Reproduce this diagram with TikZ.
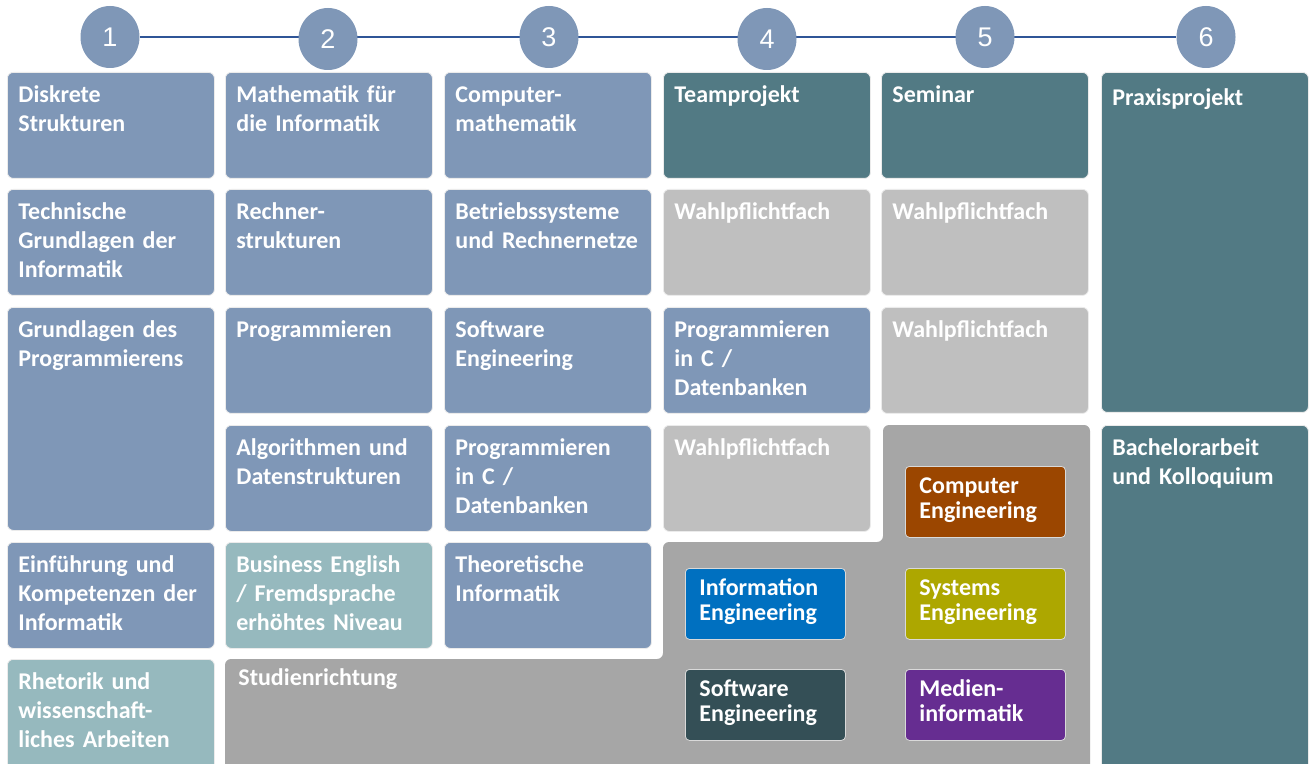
\documentclass[tikz,border=0pt]{standalone}
\usepackage{fontspec}
\setmainfont{Carlito}[WordSpace=0.85]
\newfontfamily\zahlfont{Liberation Sans}
\usetikzlibrary{shapes.geometric, backgrounds}
\definecolor{blaugrau}{RGB}{127,151,183}
\definecolor{petrol}{RGB}{82,122,132}
\definecolor{hellpetrol}{RGB}{150,185,190}
\definecolor{hellgrau}{RGB}{191,191,191}
\definecolor{mittelgrau}{RGB}{166,166,166}
\definecolor{achse}{RGB}{47,85,151}
\definecolor{ce}{RGB}{155,70,0}
\definecolor{ie}{RGB}{0,112,192}
\definecolor{sye}{RGB}{173,167,0}
\definecolor{swe}{RGB}{52,79,86}
\definecolor{mei}{RGB}{102,45,145}

\begin{document}
\begin{tikzpicture}[x=0.5pt, y=-0.5pt,
	modul/.style={anchor=north west, rounded corners=3pt, fill=blaugrau, draw=black!8, text=white, font=\bfseries\fontsize{12}{14.5}\selectfont, align=left, text width=92.5pt, inner xsep=5.5pt, inner ysep=0pt, text height=15pt, text depth=38pt},
	doppelt/.style={text depth=96.5pt},
	unten/.style={text depth=40.5pt},
	team/.style={fill=petrol},
	sprache/.style={fill=hellpetrol},
	wahl/.style={fill=hellgrau},
	richtung/.style={anchor=north west, rounded corners=2pt, draw=white!85!black, text=white, font=\bfseries\fontsize{12}{12.5}\selectfont, align=left, text width=66pt, inner xsep=7pt, inner ysep=0pt, text height=13.5pt, text depth=22pt},
	stufe/.style={ellipse, fill=blaugrau, text=white, minimum width=29.5pt, minimum height=31pt, inner sep=0pt, font=\zahlfont\fontsize{13.5}{13.5}\selectfont}]

		\useasboundingbox (0,0) rectangle (1311,764);

		\foreach \n/\x/\y in {1/110/37, 2/328/39, 3/549/37, 4/767/39, 5/985/37, 6/1206/37}
			\node[stufe] (s\n) at (\x,\y) {\n};

		\begin{scope}[on background layer]
			\fill[white] (0,0) rectangle (1311,764);
			\draw[achse, line width=1pt] (s1) -- (s6);
		\end{scope}

		\node[modul] (ds) at (7,72) {Diskrete\\Strukturen};
		\node[modul] (tg) at (7,189) {Technische\\Grundlagen der\\Informatik};
		\node[modul, doppelt] (gp) at (7,307) {Grundlagen des\\Programmierens};
		\node[modul] (ek) at (7,542) {Einführung und\\Kompetenzen der\\Informatik};
		\node[modul, sprache, unten] (rw) at (7,659) {Rhetorik und\\wissenschaft-\\liches Arbeiten};

		\node[modul] (ma) at (225,72) {Mathematik für\\die Informatik};
		\node[modul] (rs) at (225,189) {Rechner-\\strukturen};
		\node[modul] (pr) at (225,307) {Programmieren};
		\node[modul] (ad) at (225,425) {Algorithmen und\\Datenstrukturen};
		\node[modul, sprache] (be) at (225,542) {Business English\\/ Fremdsprache\\erhöhtes Niveau};

		\node[modul] (cm) at (444,72) {Computer-\\mathematik};
		\node[modul] (br) at (444,189) {Betriebssysteme\\und Rechnernetze};
		\node[modul] (se) at (444,307) {Software\\Engineering};
		\node[modul] (pc3) at (444,425) {Programmieren\\in C /\\Datenbanken};
		\node[modul] (ti) at (444,542) {Theoretische\\Informatik};

		\node[modul, team] (tp) at (663,72) {Teamprojekt};
		\node[modul, wahl] (wp4a) at (663,189) {Wahlpflichtfach};
		\node[modul] (pc4) at (663,307) {Programmieren\\in C /\\Datenbanken};
		\node[modul, wahl] (wp4b) at (663,425) {Wahlpflichtfach};

		\node[modul, team] (sem) at (881,72) {Seminar};
		\node[modul, wahl] (wp5a) at (881,189) {Wahlpflichtfach};
		\node[modul, wahl] (wp5b) at (881,307) {Wahlpflichtfach};

		\node[modul, team, text height=16.5pt, text depth=153.5pt] (pp) at (1101,72) {Praxisprojekt};
		\node[modul, team, text depth=157.5pt] (ba) at (1101,425) {Bachelorarbeit\\und Kolloquium};

		\fill[mittelgrau, rounded corners=3pt] (225,659) -- (663,659) -- (663,542) -- (883,542) -- (883,425) -- (1090,425) -- (1090,770) -- (225,770) -- cycle;
		\node[anchor=base west, inner sep=0pt, text=white, font=\bfseries\fontsize{12}{14.5}\selectfont] (sr) at (238,685) {Studienrichtung};

		\node[richtung, fill=ce] (cen) at (905,466) {Computer\\Engineering};
		\node[richtung, fill=ie] (ien) at (685,568) {Information\\Engineering};
		\node[richtung, fill=sye] (sen) at (905,568) {Systems\\Engineering};
		\node[richtung, fill=swe] (sw) at (685,669) {Software\\Engineering};
		\node[richtung, fill=mei] (mi) at (905,669) {Medien-\\informatik};

		\end{tikzpicture}
\end{document}
